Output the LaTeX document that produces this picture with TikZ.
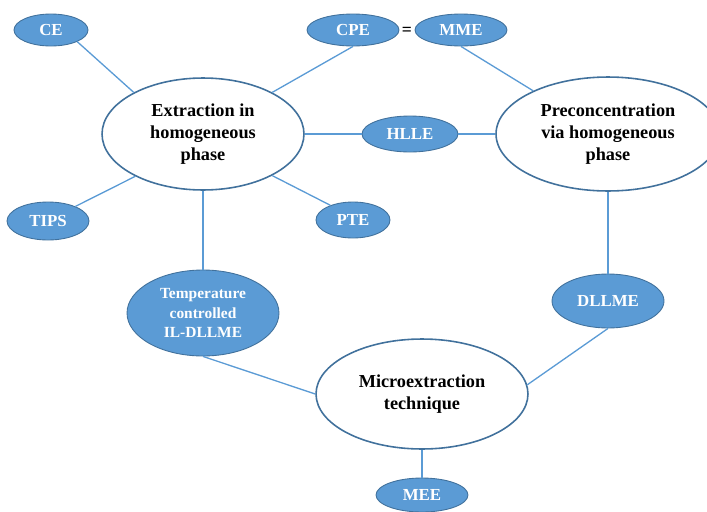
\documentclass[tikz,border=0pt]{standalone}
\usepackage{fontspec}
\setmainfont{Liberation Serif}
\usetikzlibrary{shapes.geometric}
\definecolor{bluefill}{HTML}{5B9BD5}
\definecolor{blueline}{HTML}{41719C}
\begin{document}
\begin{tikzpicture}[x=0.02cm, y=-0.02cm,
    bigell/.style={ellipse, draw=blueline, line width=0.9pt, fill=white, inner sep=0pt,
                   align=center, font=\fontsize{10.4}{12.5}\selectfont\bfseries},
    smallell/.style={ellipse, draw=blueline, line width=0.5pt, fill=bluefill, inner sep=0pt,
                     text=white, align=center, font=\fontsize{9.6}{11}\selectfont\bfseries},
    link/.style={draw=bluefill, line width=0.75pt}]
        % Рамка рисунка
        \useasboundingbox (0,0) rectangle (707,511);

        % Большие эллипсы
        \node[bigell, minimum width=4.04cm, minimum height=2.24cm] (ext) at (203,134) {Extraction in\\homogeneous\\phase};
        \node[bigell, minimum width=4.48cm, minimum height=2.28cm] (pre) at (608,134) {Preconcentration\\via homogeneous\\phase};
        \node[bigell, minimum width=4.24cm, minimum height=2.2cm] (mic) at (422,394) {Microextraction\\technique};

        % Малые эллипсы сверху
        \node[smallell, minimum width=1.48cm, minimum height=0.64cm] (ce) at (51,30) {CE};
        \node[smallell, minimum width=1.84cm, minimum height=0.64cm] (cpe) at (353,30) {CPE};
        \node[smallell, minimum width=1.84cm, minimum height=0.64cm] (mme) at (461,30) {MME};
        \node[font=\fontsize{10}{12}\selectfont\bfseries] (eq) at (407,31) {=};

        % Малые эллипсы посередине
        \node[smallell, minimum width=1.92cm, minimum height=0.72cm] (hlle) at (410,134) {HLLE};
        \node[smallell, minimum width=1.64cm, minimum height=0.76cm] (tips) at (48,221) {TIPS};
        \node[smallell, minimum width=1.48cm, minimum height=0.72cm] (pte) at (353,220) {PTE};

        % Малые эллипсы снизу
        \node[smallell, minimum width=3.04cm, minimum height=1.72cm,
              font=\fontsize{8.8}{11}\selectfont\bfseries] (tc) at (203,313) {Temperature\\controlled\\IL-DLLME};
        \node[smallell, minimum width=2.24cm, minimum height=1.08cm] (dllme) at (608,301) {DLLME};
        \node[smallell, minimum width=1.84cm, minimum height=0.68cm] (mee) at (422,495) {MEE};

        % Линии
        \draw[link] (ce.-24) -- (ext.149);
        \draw[link] (cpe.south) -- (ext.31);
        \draw[link] (mme.south) -- (pre.150);
        \draw[link] (ext.east) -- (hlle.west);
        \draw[link] (hlle.east) -- (pre.west);
        \draw[link] (ext.212) -- (tips.28);
        \draw[link] (ext.-31) -- (pte.147);
        \draw[link] (ext.south) -- (tc.north);
        \draw[link] (pre.south) -- (dllme.north);
        \draw[link] (tc.south) -- (mic.west);
        \draw[link] (dllme.south) -- (mic.5);
        \draw[link] (mic.south) -- (mee.north);
    \end{tikzpicture}
\end{document}
